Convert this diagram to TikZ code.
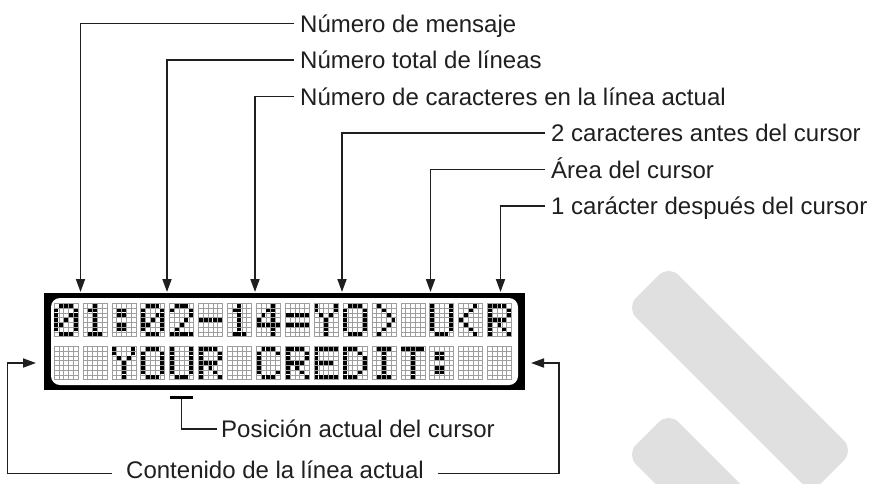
\documentclass[tikz,border=0pt]{standalone}
\usepackage{fontspec}
\setmainfont{Liberation Sans}
\usetikzlibrary{arrows.meta}
\def\chB{0}
\def\chZero{0,1,1,1,0, 1,0,0,0,1, 1,0,0,1,1, 1,0,1,0,1, 1,1,0,0,1, 1,0,0,0,1, 0,1,1,1,0}
\def\chOne{0,0,1,0,0, 0,1,1,0,0, 0,0,1,0,0, 0,0,1,0,0, 0,0,1,0,0, 0,0,1,0,0, 0,1,1,1,0}
\def\chColon{0,0,0,0,0, 0,1,1,0,0, 0,1,1,0,0, 0,0,0,0,0, 0,1,1,0,0, 0,1,1,0,0, 0,0,0,0,0}
\def\chTwo{0,1,1,1,0, 1,0,0,0,1, 0,0,0,0,1, 0,0,0,1,0, 0,0,1,0,0, 0,1,0,0,0, 1,1,1,1,1}
\def\chMinus{0,0,0,0,0, 0,0,0,0,0, 0,0,0,0,0, 1,1,1,1,1, 0,0,0,0,0, 0,0,0,0,0, 0,0,0,0,0}
\def\chFour{0,0,0,1,0, 0,0,1,1,0, 0,1,0,1,0, 1,0,0,1,0, 1,1,1,1,1, 0,0,0,1,0, 0,0,0,1,0}
\def\chEqual{0,0,0,0,0, 0,0,0,0,0, 1,1,1,1,1, 0,0,0,0,0, 1,1,1,1,1, 0,0,0,0,0, 0,0,0,0,0}
\def\chY{1,0,0,0,1, 1,0,0,0,1, 0,1,0,1,0, 0,0,1,0,0, 0,0,1,0,0, 0,0,1,0,0, 0,0,1,0,0}
\def\chO{0,1,1,1,0, 1,0,0,0,1, 1,0,0,0,1, 1,0,0,0,1, 1,0,0,0,1, 1,0,0,0,1, 0,1,1,1,0}
\def\chGt{0,1,0,0,0, 0,0,1,0,0, 0,0,0,1,0, 0,0,0,0,1, 0,0,0,1,0, 0,0,1,0,0, 0,1,0,0,0}
\def\chU{1,0,0,0,1, 1,0,0,0,1, 1,0,0,0,1, 1,0,0,0,1, 1,0,0,0,1, 1,0,0,0,1, 0,1,1,1,0}
\def\chLt{0,0,0,1,0, 0,0,1,0,0, 0,1,0,0,0, 1,0,0,0,0, 0,1,0,0,0, 0,0,1,0,0, 0,0,0,1,0}
\def\chR{1,1,1,1,0, 1,0,0,0,1, 1,0,0,0,1, 1,1,1,1,0, 1,0,1,0,0, 1,0,0,1,0, 1,0,0,0,1}
\def\chC{0,1,1,1,0, 1,0,0,0,1, 1,0,0,0,0, 1,0,0,0,0, 1,0,0,0,0, 1,0,0,0,1, 0,1,1,1,0}
\def\chE{1,1,1,1,1, 1,0,0,0,0, 1,0,0,0,0, 1,1,1,1,0, 1,0,0,0,0, 1,0,0,0,0, 1,1,1,1,1}
\def\chD{1,1,1,0,0, 1,0,0,1,0, 1,0,0,0,1, 1,0,0,0,1, 1,0,0,0,1, 1,0,0,1,0, 1,1,1,0,0}
\def\chI{0,1,1,1,0, 0,0,1,0,0, 0,0,1,0,0, 0,0,1,0,0, 0,0,1,0,0, 0,0,1,0,0, 0,1,1,1,0}
\def\chT{1,1,1,1,1, 0,0,1,0,0, 0,0,1,0,0, 0,0,1,0,0, 0,0,1,0,0, 0,0,1,0,0, 0,0,1,0,0}
\newcommand\lcdcell[3]{%
  \pgfmathsetmacro\cx{54+#1*28.9}%
  \pgfmathsetmacro\cy{303.3+#2*43}%
  \foreach \k in {0,...,5} {\draw[gridc] (\cx+\k*4.8,\cy) -- ++(0,33.25);}
  \foreach \k in {0,...,7} {\draw[gridc] (\cx,\cy+\k*4.75) -- ++(24,0);}
  \expandafter\let\expandafter\pat\csname ch#3\endcsname
  \foreach \b [count=\i from 0] in \pat {%
    \ifnum\b=1\relax
      \pgfmathsetmacro\dx{\cx+mod(\i,5)*4.8}%
      \pgfmathsetmacro\dy{\cy+int(\i/5)*4.75}%
      \fill[black] (\dx+0.45,\dy+0.45) rectangle ++(3.9,3.85);
    \fi
  }
}
\begin{document}
\begin{tikzpicture}[x=1pt,y=-1pt,
  lbl/.style={font=\fontsize{24}{28}\selectfont, text=black!88, inner sep=0pt, text height=17pt, text depth=0pt, anchor=west},
  conn/.style={line width=1.8pt, draw=black!88, -{Triangle[length=13pt,width=9pt]}},
  plain/.style={line width=1.8pt, draw=black!88},
  gridc/.style={draw=black!38, line width=0.6pt},
  wm/.style={fill=black!12, inner sep=0pt, rounded corners=14pt, minimum width=262pt, minimum height=60pt, rotate=-45},
]
\useasboundingbox (0,0) rectangle (874,483);
% watermark
\begin{scope}
  \clip (0,0) rectangle (874,483);
  \node[wm] (wm1) at (740,379) {};
  \node[wm] (wm2) at (740,526) {};
\end{scope}
% LCD
\node[fill=black, inner sep=0pt, minimum width=481pt, minimum height=97pt] (lcd) at (284.5,341.5) {};
\fill[white, rounded corners=9pt] (51,298) rectangle (518,385);
\foreach \p [count=\c from 0] in {Zero,One,Colon,Zero,Two,Minus,One,Four,Equal,Y,O,Gt,B,U,Lt,R} {\lcdcell{\c}{0}{\p}}
\foreach \p [count=\c from 0] in {B,B,Y,O,U,R,B,C,R,E,D,I,T,Colon,B,B} {\lcdcell{\c}{1}{\p}}
% top labels
\node[lbl] (t1) at (300,23.5) {Número de mensaje};
\node[lbl] (t2) at (300,60) {Número total de líneas};
\node[lbl] (t3) at (300,96.5) {Número de caracteres en la línea actual};
\node[lbl] (t4) at (551,133) {2 caracteres antes del cursor};
\node[lbl] (t5) at (551,169.5) {Área del cursor};
\node[lbl] (t6) at (551,206) {1 carácter después del cursor};
\coordinate (p1) at (80.5,292);
\coordinate (p2) at (167,292);
\coordinate (p3) at (255,292);
\coordinate (p4) at (342,292);
\coordinate (p5) at (430.5,292);
\coordinate (p6) at (500.5,292);
\draw[conn] ([xshift=-6pt]t1.west) -| (p1);
\draw[conn] ([xshift=-6pt]t2.west) -| (p2);
\draw[conn] ([xshift=-6pt]t3.west) -| (p3);
\draw[conn] ([xshift=-6pt]t4.west) -| (p4);
\draw[conn] ([xshift=-6pt]t5.west) -| (p5);
\draw[conn] ([xshift=-6pt]t6.west) -| (p6);
% cursor
\node[fill=black, inner sep=0pt, minimum width=23pt, minimum height=3.5pt] (cur) at (181.5,397.5) {};
\node[lbl] (t7) at (221,429) {Posición actual del cursor};
\draw[plain] (cur.south) |- ([xshift=-4pt]t7.west);
% current line content
\node[lbl, anchor=center] (t8) at (275,469.5) {Contenido de la línea actual};
\coordinate (lc) at (7.5,363);
\coordinate (ltip) at (36,363);
\coordinate (rc) at (559,363);
\coordinate (rtip) at (531,363);
\draw[conn] ([xshift=-14pt,yshift=-4pt]t8.west) -| (lc) -- (ltip);
\draw[conn] ([xshift=14pt,yshift=-4pt]t8.east) -| (rc) -- (rtip);
\end{tikzpicture}
\end{document}
